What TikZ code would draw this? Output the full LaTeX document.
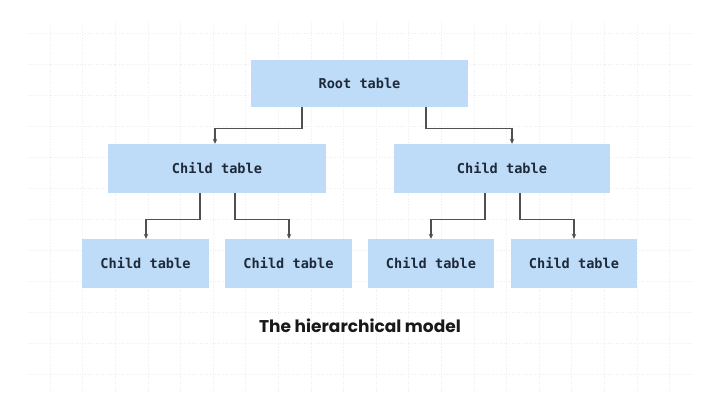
\documentclass[tikz,border=0pt]{standalone}
\usepackage{fontspec}
\setmonofont{DejaVu Sans Mono}
\newfontfamily\titlefont{Poppins}
\usetikzlibrary{arrows.meta,calc}
\definecolor{boxfill}{RGB}{190,220,248}
\definecolor{boxtext}{RGB}{30,42,58}
\definecolor{connc}{RGB}{80,80,80}
\definecolor{gridc}{RGB}{238,238,238}
\tikzset{
  tbl/.style={fill=boxfill, draw=none, inner sep=0pt, anchor=center,
    font=\ttfamily\bfseries\fontsize{13.6}{16}\selectfont, text=boxtext},
  conn/.style={draw=connc, line width=1.3pt, -{Stealth[length=5pt,width=4.5pt]}},
  gridline/.style={draw=gridc, line width=0.6pt, dotted},
}
\begin{document}
\begin{tikzpicture}[x=1pt,y=-1pt]
\useasboundingbox[fill=white] (0,0) rectangle (720,412);
% faint background grid
\foreach \gx in {50,82.6,...,690} \draw[gridline] (\gx,22) -- (\gx,392);
\foreach \gy in {33,64,...,390} \draw[gridline] (28,\gy) -- (692,\gy);
% nodes
\node[tbl, minimum width=217pt, minimum height=47pt] (root) at (359.5,83.5) {Root table};
\node[tbl, minimum width=218pt, minimum height=49pt] (l2a) at (217,168.5) {Child table};
\node[tbl, minimum width=216pt, minimum height=49pt] (l2b) at (502,168.5) {Child table};
\node[tbl, minimum width=127pt, minimum height=49pt] (l3a) at (145.5,263.5) {Child table};
\node[tbl, minimum width=127pt, minimum height=49pt] (l3b) at (288.5,263.5) {Child table};
\node[tbl, minimum width=126pt, minimum height=49pt] (l3c) at (431,263.5) {Child table};
\node[tbl, minimum width=126pt, minimum height=49pt] (l3d) at (574,263.5) {Child table};
\node[font=\titlefont\bfseries\fontsize{17}{20}\selectfont, text=black!90] (title) at (360,326) {The hierarchical model};
% connectors
\draw[conn] ([xshift=-57.5pt]root.south) -- ++(0,21) -| ([xshift=-2pt]l2a.north);
\draw[conn] ([xshift=66.5pt]root.south) -- ++(0,21) -| ([xshift=10pt]l2b.north);
\draw[conn] ([xshift=-17pt]l2a.south) -- ++(0,26) -| ([xshift=0.5pt]l3a.north);
\draw[conn] ([xshift=18pt]l2a.south) -- ++(0,26) -| ([xshift=0.5pt]l3b.north);
\draw[conn] ([xshift=-17pt]l2b.south) -- ++(0,26) -| (l3c.north);
\draw[conn] ([xshift=18pt]l2b.south) -- ++(0,26) -| (l3d.north);
\end{tikzpicture}
\end{document}
